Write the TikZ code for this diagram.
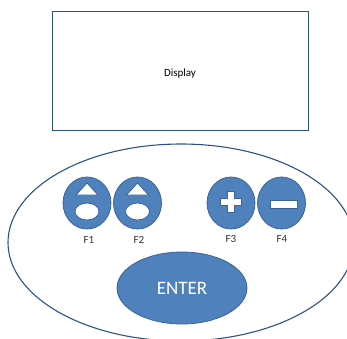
\documentclass[tikz,border=0pt]{standalone}
\usepackage{fontspec}
\setmainfont{Carlito}
\usetikzlibrary{shapes.geometric}
\definecolor{keyblue}{HTML}{4F81BD}
\definecolor{keyedge}{HTML}{3A6496}
\definecolor{darkedge}{HTML}{2C5286}
\begin{document}
\begin{tikzpicture}[x=1pt, y=-1pt,
  keypad/.style={ellipse, draw=darkedge, line width=1.1pt, minimum width=346pt, minimum height=197pt, inner sep=0},
  btn/.style={ellipse, fill=keyblue, draw=keyedge, line width=.8pt, minimum width=48pt, minimum height=52pt, inner sep=0},
  sym/.style={fill=white, draw=keyedge, line width=.8pt},
  lbl/.style={font=\fontsize{11}{12}\selectfont, text=black!80}]
\useasboundingbox (0,0) rectangle (347,338);
\clip (0,0) rectangle (347,338);

\node[draw=darkedge, line width=1pt, minimum width=256pt, minimum height=119pt, inner sep=0] (display) at (180,70.5){};
\node[lbl, text=black] (displaytext) at (180,74){Display};

\node[keypad] (keypad) at (181,242.5){};

\node[btn] (f1) at (87,203){};
\node[btn] (f2) at (137.5,203){};
\node[btn] (f3) at (231,203){};
\node[btn] (f4) at (281.5,203){};

\draw[sym] (76,195)--(87,183)--(98,195)--cycle;
\draw[sym] (87,211.5) ellipse (12 and 8.5);
\draw[sym] (126.5,195)--(137.5,183)--(148.5,195)--cycle;
\draw[sym] (137.5,211.5) ellipse (12 and 8.5);

\draw[sym] (227.5,191.5)--(234.5,191.5)--(234.5,198.5)--(241.5,198.5)--(241.5,205.5)--(234.5,205.5)--(234.5,212.5)--(227.5,212.5)--(227.5,205.5)--(220.5,205.5)--(220.5,198.5)--(227.5,198.5)--cycle;
\draw[sym] (270,200.5) rectangle (297,208);

\node[lbl] (f1text) at (89,239.5){F1};
\node[lbl] (f2text) at (139,239.5){F2};
\node[lbl] (f3text) at (231,238.5){F3};
\node[lbl] (f4text) at (282,238.5){F4};

\node[btn, minimum width=130pt, minimum height=72pt, text=white, font=\fontsize{19}{20}\selectfont] (enter) at (182,288){ENTER};
\end{tikzpicture}
\end{document}
